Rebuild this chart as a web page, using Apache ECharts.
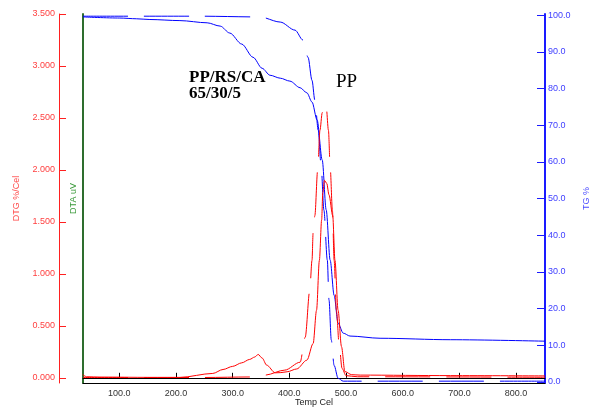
<!DOCTYPE html>
<html><head><meta charset="utf-8">
<script src="https://cdn.jsdelivr.net/npm/echarts@6/dist/echarts.min.js"></script>
<style>html,body{margin:0;padding:0;background:#fff}#c{width:590px;height:408px}</style>
</head><body><div id="c"></div>
<script>
const xTicks=[100,200,300,400,500,600,700,800];
const dtgTicks=[0,0.5,1,1.5,2,2.5,3,3.5];
const tgTicks=[0,10,20,30,40,50,60,70,80,90,100];

const blendTgT=[36,101,130,154,207,255,278,295,316,336,352,366,384,401,419,431,440,449,458,465,472,479,486,495,507,560,684,851];
const blendTgV=[99.5,99.2,99.0,98.8,98.5,97.9,97.0,95.1,92.1,88.5,85.5,83.6,82.8,82.0,80.2,78.8,76.3,71.4,60.5,46.9,33.2,23.6,16.0,13.3,12.5,11.9,11.5,11.1];

const ppTgT=[36,242,348,384,410,424,433,440,445,451,456,461,467,470,474,479,486,495,851];
const ppTgV=[99.7,99.7,99.5,98.1,95.9,93.2,88.5,82.2,76.8,68.6,59.1,46.8,33.2,22.3,11.4,4.5,1.0,0.2,0.2];

const blendDtgT=[36,38,42,66,154,207,265,283,300,316,330,339,345,352,360,375,385,396,413,431,442,448,453,457,459,462,466,470,476.5,480.5,486,492,498,510,525,684,851];
const blendDtgV=[0.03,0.02,0.01,0.007,0.004,0.004,0.042,0.08,0.11,0.144,0.177,0.2,0.225,0.19,0.122,0.048,0.05,0.058,0.085,0.17,0.33,0.65,1.13,1.52,1.78,1.9,1.87,1.76,1.56,1.13,0.65,0.3,0.06,0.03,0.026,0.021,0.018];

const ppDtgT=[36,150,250,330,357,392,419,428,436,440,442,445,450,454,458,461,465,469,472,476,479,483,488,493,500,520,851];
const ppDtgV=[0.003,0.003,0.003,0.008,0.026,0.074,0.15,0.39,0.84,1.13,1.4,1.56,2.0,2.38,2.55,2.63,2.61,2.38,2.03,1.61,1.13,0.65,0.31,0.09,0.021,0.01,0.005];

const zip=(a,b)=>a.map((t,i)=>[t,b[i]]);
const chart=echarts.init(document.getElementById('c'),null,{renderer:'canvas'});
const F='"Liberation Sans", Arial, sans-serif';
function line(name,T,V,yi,color,dashed){
  return {name,type:'line',yAxisIndex:yi,data:zip(T,V),showSymbol:false,symbol:'none',
    smooth:0.3,smoothMonotone:'x',animation:false,
    lineStyle:{width:1,color,type:dashed?[45,16]:'solid'}};
}
chart.setOption({
  animation:false,
  grid:{left:83,right:45,top:14,bottom:25,outerBoundsMode:'none'},
  xAxis:[{type:'value',min:36,max:851,position:'bottom',
    axisLine:{lineStyle:{color:'#000',width:1}},
    axisTick:{inside:true,length:5,customValues:xTicks,lineStyle:{color:'#000'}},
    axisLabel:{customValues:xTicks,formatter:v=>v.toFixed(1),color:'#333',fontSize:9,fontFamily:F,margin:6},
    splitLine:{show:false},
    name:'Temp Cel',nameLocation:'middle',nameGap:15,nameMoveOverlap:false,nameTextStyle:{color:'#222',fontSize:9,fontFamily:F}},
   {type:'value',min:36,max:851,position:'top',axisLine:{lineStyle:{color:'#000',width:1}},
    axisTick:{show:false},axisLabel:{show:false},splitLine:{show:false}}],
  yAxis:[
   {type:'value',position:'left',offset:24,min:-0.05,max:3.5,
    axisLine:{show:true,lineStyle:{color:'#ff2020',width:1}},
    axisTick:{show:true,inside:true,length:7,customValues:dtgTicks,lineStyle:{color:'#ff2020'}},
    axisLabel:{customValues:dtgTicks,formatter:v=>v.toFixed(3),color:'#ff4040',fontSize:9,fontFamily:F,margin:4},
    splitLine:{show:false},
    name:'DTG %/Cel',nameLocation:'middle',nameRotate:90,nameGap:38,nameMoveOverlap:false,nameTextStyle:{color:'#ff4a4a',fontSize:9,fontFamily:F}},
   {type:'value',position:'left',offset:0,min:0,max:1,
    axisLine:{show:true,lineStyle:{color:'#2e6e2e',width:2}},
    axisTick:{show:false},axisLabel:{show:false},splitLine:{show:false},
    name:'DTA uV',nameLocation:'middle',nameRotate:90,nameGap:5,nameMoveOverlap:false,nameTextStyle:{color:'#3a9a3a',fontSize:9,fontFamily:F}},
   {type:'value',position:'right',min:-0.3,max:100.3,
    axisLine:{show:true,lineStyle:{color:'#1a1aff',width:2}},
    axisTick:{show:true,inside:true,length:8,customValues:tgTicks,lineStyle:{color:'#1a1aff',width:1}},
    axisLabel:{customValues:tgTicks,formatter:v=>v.toFixed(1),color:'#4040ff',fontSize:9,fontFamily:F,margin:3},
    splitLine:{show:false},
    name:'TG %',nameLocation:'middle',nameRotate:90,nameGap:37,nameMoveOverlap:false,nameTextStyle:{color:'#4a4aff',fontSize:9,fontFamily:F}}
  ],
  series:[
    line('PP/RS/CA TG',blendTgT,blendTgV,2,'#0000ff',false),
    line('PP TG',ppTgT,ppTgV,2,'#0000ff',true),
    line('PP/RS/CA DTG',blendDtgT,blendDtgV,0,'#ff0000',false),
    line('PP DTG',ppDtgT,ppDtgV,0,'#ff0000',true)
  ],
  graphic:[
    {type:'text',x:189,y:78,style:{text:'PP/RS/CA',font:'bold 17px "Liberation Serif", serif',fill:'#000',verticalAlign:'middle'}},
    {type:'text',x:189,y:94,style:{text:'65/30/5',font:'bold 17px "Liberation Serif", serif',fill:'#000',verticalAlign:'middle'}},
    {type:'text',x:336,y:82,style:{text:'PP',font:'19px "Liberation Serif", serif',fill:'#000',verticalAlign:'middle'}}
  ]
});
</script></body></html>
